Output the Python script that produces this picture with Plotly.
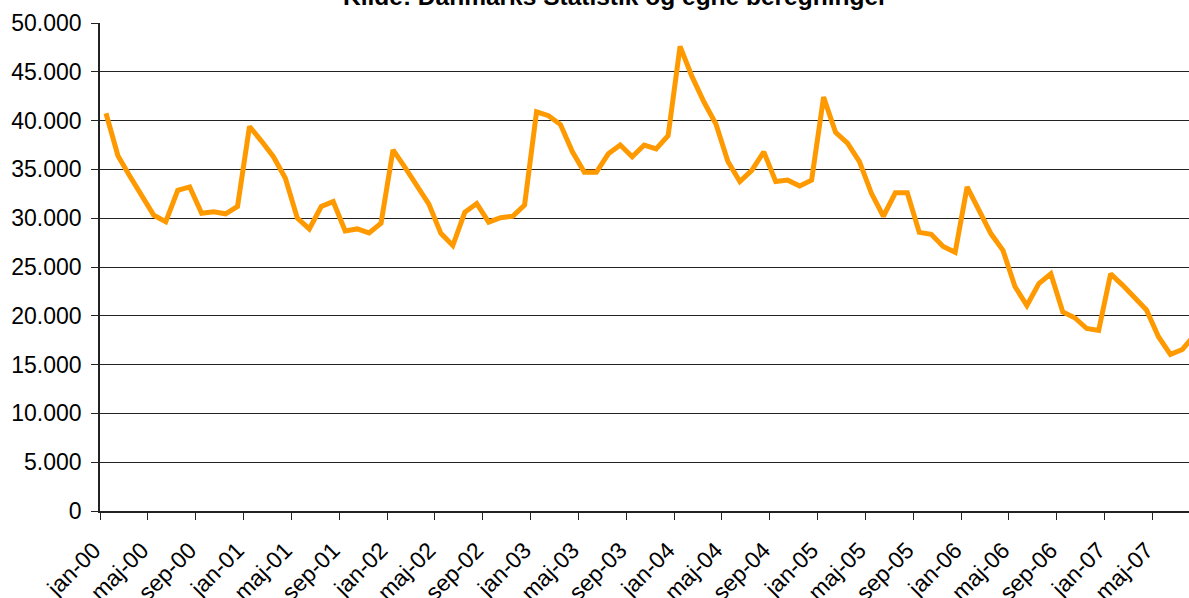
import plotly.graph_objects as go

years = ["00", "01", "02", "03", "04", "05", "06", "07"]
month_names = ["jan", "feb", "mar", "apr", "maj", "jun", "jul", "aug", "sep", "okt", "nov", "dec"]
months = [f"{m}-{y}" for y in years for m in month_names][:92]

values = [
    40750, 36400, 34300, 32400, 30300, 29650, 32850, 33200, 30500, 30650, 30450, 31200,
    39400, 37900, 36300, 34100, 30000, 28900, 31200, 31700, 28700, 28900, 28500, 29500,
    37000, 35200, 33400, 31450, 28450, 27200, 30600, 31500, 29600, 30050, 30200, 31350,
    40900, 40500, 39600, 36800, 34700, 34700, 36600, 37500, 36300, 37500, 37100, 38450,
    47600, 44500, 41900, 39650, 35800, 33750, 34900, 36800, 33750, 33900, 33300, 33900,
    42400, 38800, 37700, 35800, 32550, 30200, 32600, 32600, 28550, 28350, 27100, 26500,
    33200, 30800, 28400, 26700, 23000, 21050, 23300, 24300, 20400, 19800, 18700, 18500,
    24300, 23150, 21950, 20600, 17850, 16050, 16550, 18000,
]

title_text = "Kilde: Danmarks Statistik og egne beregninger"

W, H = 1189, 598
ml, mr, mt, mb = 100, 0, 23, 87
month_px = 11.96
x_right = -0.5 + (W - ml - mr) / month_px

fig = go.Figure()
fig.add_trace(go.Scatter(
    x=months, y=values, mode="lines",
    line=dict(color="#FF9900", width=5),
    cliponaxis=True, showlegend=False,
))

font = "Liberation Sans, Arial, sans-serif"

fig.update_layout(
    width=W, height=H,
    margin=dict(l=ml, r=mr, t=mt, b=mb, autoexpand=False),
    paper_bgcolor="white", plot_bgcolor="white",
    separators=",.",
    font=dict(family=font, color="black", size=21),
    xaxis=dict(
        type="category",
        range=[-0.5, x_right],
        tickmode="linear", tick0=0, dtick=4,
        tickson="boundaries",
        ticks="outside", ticklen=7, tickcolor="#222", tickwidth=1,
        tickangle=-45,
        ticklabelstandoff=15, ticklabelshift=-12,
        showgrid=False,
        showline=True, linecolor="#222", linewidth=1.5,
        tickfont=dict(family=font, size=23, color="black"),
        zeroline=False,
    ),
    yaxis=dict(
        range=[0, 50000],
        tickmode="linear", tick0=0, dtick=5000,
        tickformat=",d",
        ticks="outside", ticklen=7, tickcolor="#222", tickwidth=1,
        ticklabelstandoff=5,
        showgrid=True, gridcolor="#222", gridwidth=1,
        showline=True, linecolor="#222", linewidth=1.5,
        zeroline=False,
        tickfont=dict(family=font, size=23, color="black"),
    ),
    annotations=[dict(
        text=f"<b>{title_text}</b>",
        xref="paper", yref="paper",
        x=(615 - ml) / (W - ml - mr), y=1 + (mt + 3.4) / (H - mt - mb),
        xanchor="center", yanchor="middle",
        showarrow=False,
        font=dict(family=font, size=24.5, color="black"),
    )],
)

fig.write_html(
    "out.html",
    config={"displayModeBar": False},
    post_script="document.body.style.margin='0';document.body.style.overflow='hidden';",
)
